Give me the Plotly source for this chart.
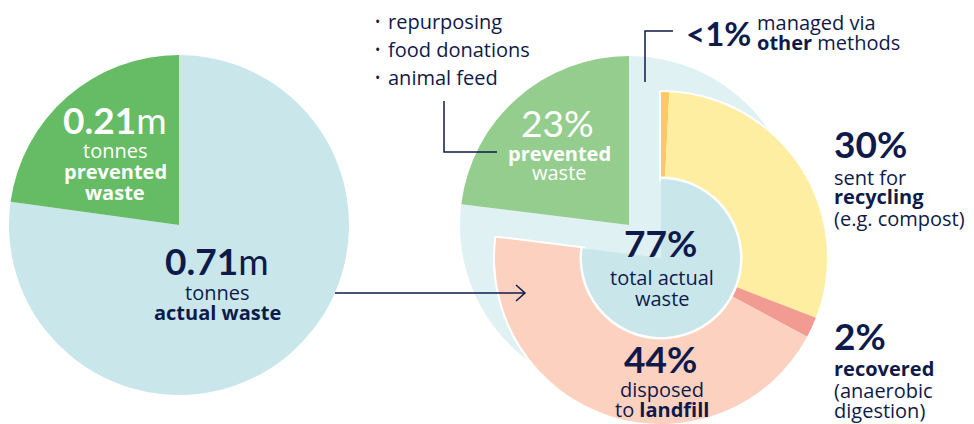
import plotly.graph_objects as go

W, H = 974, 424

# ---- data ----
left_labels = ["actual waste", "prevented waste"]
left_tonnes_m = [0.71, 0.21]

right_labels = ["managed via other methods", "sent for recycling", "recovered", "disposed to landfill"]
right_share = [0.8, 30, 2, 44]          # % of total food waste
prevented_share = 23                      # %
prevention_methods = ["repurposing", "food donations", "animal feed"]

# ---- styles ----
NAVY = "#0e1a4a"
GREEN_L = "#65bc65"
GREEN_R = "#95cd8e"
LIGHT = "#c9e7ea"
STRIP = "#e0f1f3"
SEG_COLORS = ["#fec865", "#feeea2", "#f29b92", "#fcd1bf"]
CLEAR = "rgba(0,0,0,0)"
BIG = "Lato"
SMALL = "Open Sans"


def px(x):
    return x / W


def py(y):
    return 1 - y / H


def dom(cx, cy, r):
    return dict(x=[max(0, px(cx - r)), min(1, px(cx + r))],
                y=[max(0, py(cy + r)), min(1, py(cy - r))])


fig = go.Figure()
common = dict(sort=False, textinfo="none", hoverinfo="skip", showlegend=False, direction="clockwise")

# left pie
fig.add_trace(go.Pie(values=left_tonnes_m, labels=left_labels,
                     marker=dict(colors=[LIGHT, GREEN_L], line=dict(width=0)),
                     domain=dom(179, 225, 170), **common))

# right background pie (actual vs prevented)
actual_total = sum(right_share)
fig.add_trace(go.Pie(values=[actual_total, prevented_share], labels=["actual", "prevented"],
                     marker=dict(colors=[STRIP, GREEN_R], line=dict(width=0)),
                     domain=dom(629, 225, 169), **common))

# exploded actual waste ring
CX, CY, R, RIN = 661, 258, 166, 80
fig.add_trace(go.Pie(values=[actual_total, prevented_share], labels=["a", "p"],
                     hole=(RIN - 2) / R,
                     marker=dict(colors=["white", CLEAR], line=dict(width=4, color=["white", CLEAR])),
                     domain=dom(CX, CY, R), **common))
fig.add_trace(go.Pie(values=right_share + [prevented_share], labels=right_labels + ["prevented"],
                     hole=(RIN + 1.5) / R,
                     marker=dict(colors=SEG_COLORS + [CLEAR], line=dict(width=0)),
                     domain=dom(CX, CY, R), **common))
fig.add_trace(go.Pie(values=[actual_total, prevented_share], labels=["total", "p"],
                     marker=dict(colors=[LIGHT, CLEAR], line=dict(width=0)),
                     domain=dom(CX, CY, RIN - 1), **common))

ann = []


def t(x, y, text, size=20, color=NAVY, family=SMALL, xanchor="center"):
    ann.append(dict(x=px(x), y=py(y), xref="paper", yref="paper", text=text, showarrow=False,
                    xanchor=xanchor, yanchor="middle", borderpad=0, borderwidth=0,
                    font=dict(size=size, color=color, family=family)))


# left pie texts
t(115, 120, "<b>0.21</b>m", 37, "white", BIG)
t(115, 150, "tonnes", color="white")
t(115, 171, "<b>prevented</b>", color="white")
t(115, 192, "<b>waste</b>", color="white")
t(217, 260, "<b>0.71</b>m", 37, NAVY, BIG)
t(217, 292, "tonnes")
t(217, 312, "<b>actual waste</b>")

# bullets
for i, m in enumerate(prevention_methods):
    t(377, 21 + 28 * i, "•", 14)
    t(388, 21 + 28 * i, m, xanchor="left")

# prevented in right
t(557, 122, f"{prevented_share}%", 37, "white", BIG)
t(559, 153, "<b>prevented</b>", color="white")
t(559, 173, "waste", color="white")

# centre
t(660, 243, f"<b>{round(100 - prevented_share)}%</b>", 37, NAVY, BIG)
t(662, 277, "total actual")
t(662, 298, "waste")

# landfill
t(660, 358, f"<b>{right_share[3]}%</b>", 37, NAVY, BIG)
t(662, 389, "disposed")
t(662, 409, "to <b>landfill</b>")

# recycling
t(834, 143, f"<b>{right_share[1]}%</b>", 37, NAVY, BIG, "left")
t(834, 177, "sent for", xanchor="left")
t(834, 197, "<b>recycling</b>", xanchor="left")
t(834, 218, "(e.g. compost)", xanchor="left")

# recovered
t(834, 335, f"<b>{right_share[2]}%</b>", 37, NAVY, BIG, "left")
t(834, 368, "<b>recovered</b>", xanchor="left")
t(834, 390, "(anaerobic", xanchor="left")
t(834, 410, "digestion)", xanchor="left")

# other
t(686, 33, "<b>&lt;1%</b>", 33, NAVY, BIG, "left")
t(757, 22, "managed via", xanchor="left")
t(757, 43, "<b>other</b> methods", xanchor="left")


def path(pts):
    return "M " + " L ".join(f"{px(a):.5f},{py(b):.5f}" for a, b in pts)


line = dict(color=NAVY, width=1.5)
shapes = [
    dict(type="path", path=path([(444, 101), (444, 152), (497, 152)]), line=line),
    dict(type="path", path=path([(645, 82), (645, 31), (673, 31)]), line=line),
    dict(type="path", path=path([(335, 293), (525, 293)]), line=line),
    dict(type="path", path=path([(516, 285), (525, 293), (516, 301)]), line=line),
]
for s in shapes:
    s.update(xref="paper", yref="paper", layer="above")

fig.update_layout(width=W, height=H, margin=dict(l=0, r=0, t=0, b=0),
                  paper_bgcolor="white", plot_bgcolor="white",
                  annotations=ann, shapes=shapes)
fig.write_html("out.html", config={"displayModeBar": False},
               post_script="document.body.style.margin='0px';document.body.style.overflow='hidden';")
